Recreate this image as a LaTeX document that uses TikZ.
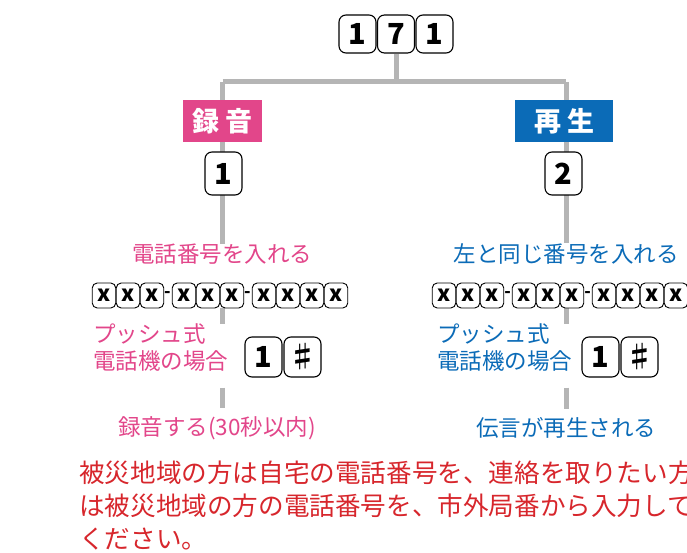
\documentclass[tikz,border=0pt]{standalone}
\usepackage{fontspec}
\newfontfamily\jp{Noto Sans CJK JP}
\usetikzlibrary{backgrounds}
\definecolor{recpink}{HTML}{E2468A}
\definecolor{playblue}{HTML}{0B6BB7}
\definecolor{noticered}{HTML}{D7262C}
\definecolor{stemgray}{HTML}{B5B5B5}
\tikzset{
  dialkey/.style={draw,line width=1.1pt,rounded corners=7pt,fill=white,minimum width=37pt,minimum height=38pt,inner sep=0pt,font=\jp\bfseries\fontsize{29}{29}\selectfont},
  pushkey/.style={dialkey,minimum height=40pt},
  telkey/.style={draw,line width=0.9pt,rounded corners=5pt,fill=white,minimum width=23.5pt,minimum height=25pt,inner sep=0pt,font=\jp\bfseries\fontsize{22}{22}\selectfont},
  modebox/.style={minimum height=42pt,inner sep=0pt,text=white,font=\jp\bfseries\fontsize{27}{27}\selectfont},
  guide/.style={inner sep=0pt,font=\jp\fontsize{22.5}{27}\selectfont},
  stem/.style={line width=5pt,stemgray}
}
\begin{document}
\begin{tikzpicture}[x=1pt,y=-1pt]
\useasboundingbox (0,0) rectangle (687,553);
\clip (0,0) rectangle (687,553);
\node[dialkey] (d1) at (357.5,34) {1};
\node[dialkey] (d2) at (396,34) {7};
\node[dialkey] (d3) at (434.5,34) {1};
\coordinate (jL) at (222.5,82);
\coordinate (jR) at (566,82);
\coordinate (jC) at (d2 |- jL);
\node[modebox,fill=recpink,minimum width=79pt] (recbox) at (222.5,121) {録\hspace{6pt}音};
\node[modebox,fill=playblue,minimum width=98pt] (playbox) at (564,121) {再\hspace{6pt}生};
\node[dialkey,minimum height=43pt] (selL) at (223.5,173.5) {1};
\node[dialkey,minimum height=43pt] (selR) at (563.5,173.5) {2};
\node[guide,text=recpink] (telL) at (222,254) {電話番号を入れる};
\node[guide,text=playblue] (telR) at (566,254) {左と同じ番号を入れる};
\foreach \dx [count=\i] in {0,24,48,80,104,128,160,184,208,232} {
  \node[telkey] (tL\i) at (104+\dx,295.5) {x};
  \node[telkey] (tR\i) at (444+\dx,295.5) {x};
}
\node[font=\jp\bfseries\fontsize{17}{17}\selectfont,inner sep=0pt] (hL1) at (167.5,295) {-};
\node[font=\jp\bfseries\fontsize{17}{17}\selectfont,inner sep=0pt] (hL2) at (247.5,295) {-};
\node[font=\jp\bfseries\fontsize{17}{17}\selectfont,inner sep=0pt] (hR1) at (507.5,295) {-};
\node[font=\jp\bfseries\fontsize{17}{17}\selectfont,inner sep=0pt] (hR2) at (587.5,295) {-};
\node[guide,text=recpink,align=left,anchor=west] (pushL) at (93,348) {プッシュ式\\電話機の場合};
\node[guide,text=playblue,align=left,anchor=west] (pushR) at (437,348) {プッシュ式\\電話機の場合};
\node[pushkey] (pkL1) at (263.5,357) {1};
\node[pushkey] (pkL2) at (302.5,357) {♯};
\node[pushkey] (pkR1) at (600.5,357) {1};
\node[pushkey] (pkR2) at (639.5,357) {♯};
\node[guide,text=recpink] (doneL) at (217,428) {録音する(30秒以内)};
\node[guide,text=playblue] (doneR) at (566,428) {伝言が再生される};
\node[inner sep=0pt,anchor=north west,align=left,text=noticered,font=\jp\fontsize{25.6}{33}\selectfont] (notice) at (79,461) {被災地域の方は自宅の電話番号を、連絡を取りたい方\\は被災地域の方の電話番号を、市外局番から入力して\\ください。};
\begin{pgfonlayer}{background}
\draw[stem] (d2.south) -- (jC);
\draw[stem] (jL) -- (jR);
\draw[stem] (jL) -- (jL |- telL.north);
\draw[stem] (jR) -- (jR |- telR.north);
\draw[stem] (jL |- tL1.south) -- (jL |- pushL.north);
\draw[stem] (jR |- tR1.south) -- (jR |- pushR.north);
\draw[stem,shorten <=10pt,shorten >=8pt] (jL |- pkL1.south) -- (jL |- doneL.north);
\draw[stem,shorten <=10pt,shorten >=8pt] (jR |- pkR1.south) -- (jR |- doneR.north);
\end{pgfonlayer}
\end{tikzpicture}
\end{document}
